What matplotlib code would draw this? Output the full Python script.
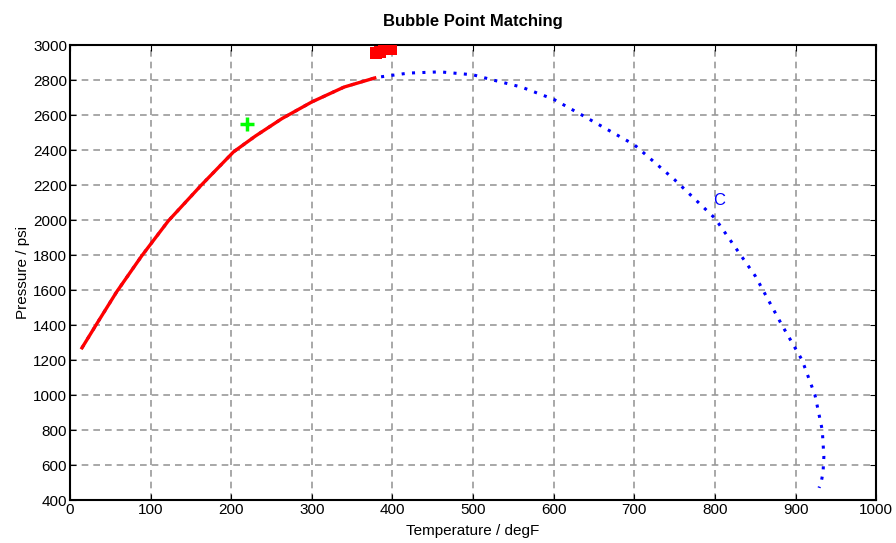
import matplotlib
matplotlib.use('Agg')
import matplotlib.pyplot as plt

plt.rcParams['font.family'] = ['Liberation Sans', 'DejaVu Sans']

# calculated phase envelope (blue dotted)
env_t = [15, 33, 58, 89, 122, 163, 203, 230, 263, 300, 340, 380, 420, 459,
         500, 525, 560, 600, 635, 700, 750, 800, 850, 883, 908, 924, 933, 935, 934,
         932, 929]
env_p = [1270, 1405, 1590, 1795, 1995, 2200, 2390, 2480, 2580, 2675, 2760,
         2815, 2840, 2847, 2830, 2800, 2760, 2690, 2600, 2430, 2230, 2010, 1680,
         1400, 1200, 1000, 800, 650, 560, 510, 470]

# bubble point line (red)
bub_t = [15, 33, 58, 89, 122, 163, 203, 230, 263, 300, 340, 378]
bub_p = [1270, 1405, 1590, 1795, 1995, 2200, 2390, 2480, 2580, 2675, 2760, 2812]

# measured points at the top edge (red blob)
meas_t = [380, 385, 390, 394, 398]
meas_p = [2957, 2960, 2975, 2980, 2980]

# single green point
green_t = [220]
green_p = [2550]

crit_t = 805
crit_p = 2110

fig = plt.figure(figsize=(8.96, 5.43), dpi=100)
ax = fig.add_axes([0.078, 0.079, 0.9, 0.838])

ax.plot(env_t, env_p, color='#0000ff', lw=2.2, ls=(0, (1, 2.4)), zorder=3)
ax.plot(bub_t, bub_p, color='#ff0000', lw=2.4, zorder=4)
ax.plot([377, 398], [2945, 2975], ls='none', marker='s', ms=3, color='#0000ff', zorder=4)
ax.plot(meas_t, meas_p, ls='none', marker='s', ms=8, mew=0, color='#ff0000', zorder=5)
ax.plot(green_t, green_p, ls='none', marker='+', ms=10, mew=2.5, color='#00ff00', zorder=6)
ax.text(crit_t, crit_p, 'C', color='#0000ff', fontsize=12, ha='center', va='center')

ax.set_xlim(0, 1000)
ax.set_ylim(400, 3000)
ax.set_xticks(range(0, 1001, 100))
ax.set_yticks(range(400, 3001, 200))
ax.grid(True, color='#999999', ls=(0, (4, 3)), lw=1.2)
ax.tick_params(direction='in', top=True, right=True, labelsize=11, length=4, pad=2)
for s in ax.spines.values():
    s.set_linewidth(1.5)
    s.set_color('black')

ax.set_title('Bubble Point Matching', fontsize=12, fontweight='bold', pad=14)
ax.set_xlabel('Temperature / degF', fontsize=11, labelpad=5)
ax.set_ylabel('Pressure / psi', fontsize=11, labelpad=2)

fig.savefig('out.png', dpi=100)
